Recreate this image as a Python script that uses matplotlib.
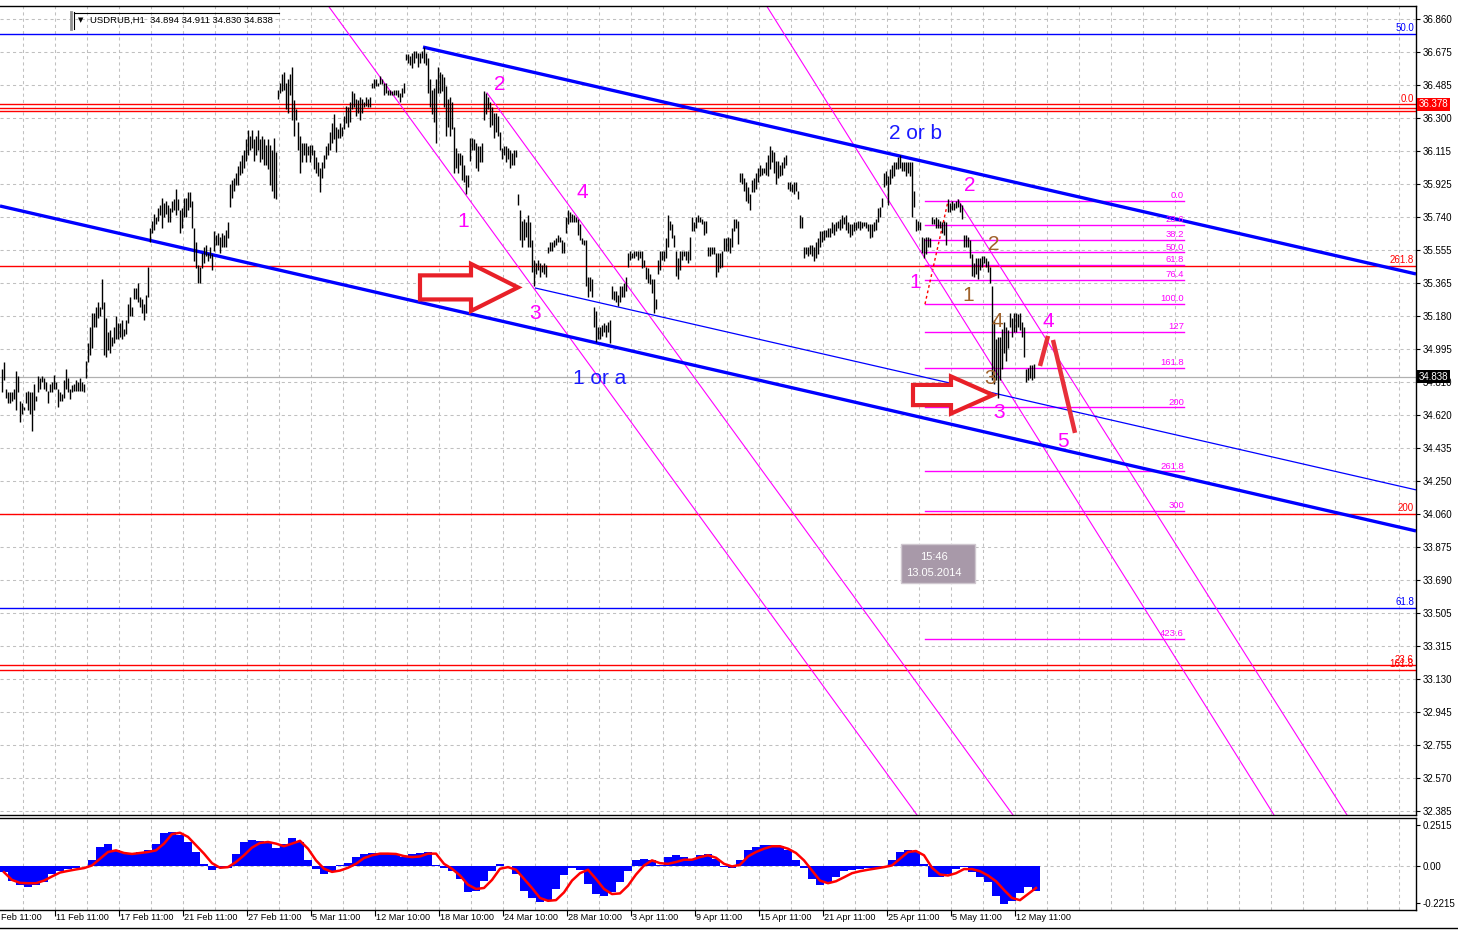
import matplotlib
matplotlib.use("Agg")
import matplotlib.pyplot as plt
import numpy as np
from matplotlib import transforms
from matplotlib.patches import Polygon, Rectangle
from matplotlib.lines import Line2D

plt.rcParams['font.family'] = ['Liberation Sans', 'DejaVu Sans']

W, H = 1458, 932

# hourly bars (high / low), left to right
highs = [
    34.88, 34.92, 34.77, 34.75, 34.75, 34.75, 34.77, 34.87, 34.84, 34.70,
    34.69, 34.67, 34.75, 34.76, 34.75, 34.75, 34.80, 34.73, 34.84, 34.83,
    34.84, 34.83, 34.81, 34.76, 34.80, 34.81, 34.85, 34.81, 34.77, 34.75,
    34.74, 34.82, 34.88, 34.83, 34.77, 34.79, 34.80, 34.82, 34.81, 34.83,
    34.81, 34.80, 34.93, 35.03, 35.12, 35.20, 35.20, 35.23, 35.26, 35.23,
    35.39, 35.26, 35.17, 35.09, 35.10, 35.06, 35.12, 35.18, 35.14, 35.14,
    35.16, 35.11, 35.16, 35.25, 35.29, 35.23, 35.34, 35.34, 35.37, 35.29,
    35.28, 35.25, 35.30, 35.46, 35.68, 35.72, 35.76, 35.74, 35.79, 35.81,
    35.85, 35.82, 35.83, 35.81, 35.79, 35.83, 35.84, 35.90, 35.84, 35.78,
    35.79, 35.85, 35.85, 35.88, 35.88, 35.83, 35.68, 35.60, 35.47, 35.46,
    35.54, 35.57, 35.58, 35.54, 35.57, 35.53, 35.66, 35.64, 35.65, 35.63,
    35.65, 35.64, 35.67, 35.71, 35.93, 35.95, 35.96, 35.99, 36.03, 36.06,
    36.09, 36.12, 36.18, 36.23, 36.20, 36.23, 36.18, 36.20, 36.23, 36.18,
    36.20, 36.18, 36.15, 36.18, 36.15, 36.12, 36.19, 36.11, 36.46, 36.50,
    36.55, 36.56, 36.50, 36.52, 36.55, 36.59, 36.40, 36.35, 36.28, 36.20,
    36.16, 36.16, 36.16, 36.14, 36.15, 36.15, 36.12, 36.08, 36.05, 36.02,
    36.05, 36.09, 36.14, 36.16, 36.22, 36.27, 36.32, 36.25, 36.24, 36.27,
    36.25, 36.31, 36.37, 36.36, 36.39, 36.45, 36.44, 36.41, 36.40, 36.42,
    36.41, 36.39, 36.42, 36.41, 36.42, 36.50, 36.52, 36.52, 36.50, 36.54,
    36.52, 36.50, 36.50, 36.46, 36.46, 36.45, 36.46, 36.46, 36.46, 36.44,
    36.47, 36.50, 36.66, 36.66, 36.65, 36.67, 36.68, 36.68, 36.67, 36.67,
    36.68, 36.70, 36.67, 36.64, 36.52, 36.46, 36.47, 36.52, 36.59, 36.56,
    36.55, 36.53, 36.48, 36.41, 36.42, 36.39, 36.25, 36.13, 36.10, 36.10,
    36.09, 36.035, 35.98, 35.98, 36.19, 36.19, 36.18, 36.16, 36.14, 36.14,
    36.16, 36.45, 36.44, 36.42, 36.39, 36.36, 36.33, 36.33, 36.31, 36.22,
    36.13, 36.14, 36.14, 36.13, 36.12, 36.10, 36.12, 36.12, 35.87, 35.78,
    35.72, 35.73, 35.71, 35.75, 35.71, 35.61, 35.50, 35.48, 35.50, 35.48,
    35.47, 35.48, 35.47, 35.57, 35.60, 35.60, 35.61, 35.62, 35.64, 35.63,
    35.61, 35.60, 35.74, 35.78, 35.77, 35.76, 35.75, 35.74, 35.73, 35.70,
    35.62, 35.61, 35.61, 35.40, 35.40, 35.39, 35.23, 35.21, 35.12, 35.12,
    35.13, 35.14, 35.13, 35.15, 35.16, 35.35, 35.32, 35.32, 35.30, 35.35,
    35.35, 35.37, 35.40, 35.54, 35.55, 35.54, 35.55, 35.55, 35.55, 35.55,
    35.55, 35.50, 35.46, 35.45, 35.42, 35.39, 35.39, 35.28, 35.50, 35.55,
    35.55, 35.55, 35.62, 35.75, 35.72, 35.70, 35.64, 35.55, 35.51, 35.55,
    35.55, 35.55, 35.55, 35.55, 35.63, 35.74, 35.71, 35.74, 35.75, 35.74,
    35.73, 35.72, 35.72, 35.57, 35.57, 35.57, 35.57, 35.54, 35.54, 35.54,
    35.55, 35.62, 35.62, 35.63, 35.62, 35.68, 35.73, 35.73, 35.72, 35.99,
    35.99, 35.96, 35.94, 35.91, 35.87, 35.95, 35.96, 35.99, 36.02, 36.035,
    36.02, 36.02, 36.05, 36.09, 36.14, 36.12, 36.11, 36.06, 36.06, 36.035,
    36.05, 36.08, 36.09, 35.94, 35.94, 35.93, 35.94, 35.94, 35.89, 35.75,
    35.74, 35.57, 35.57, 35.57, 35.58, 35.58, 35.57, 35.60, 35.62, 35.66,
    35.66, 35.67, 35.67, 35.68, 35.68, 35.71, 35.70, 35.71, 35.72, 35.73,
    35.75, 35.74, 35.75, 35.71, 35.70, 35.70, 35.71, 35.71, 35.72, 35.72,
    35.71, 35.71, 35.71, 35.70, 35.70, 35.70, 35.71, 35.73, 35.79, 35.80,
    35.85, 35.99, 36.00, 35.97, 36.01, 36.035, 36.05, 36.05, 36.08, 36.09,
    36.05, 36.05, 36.05, 36.05, 36.05, 36.05, 35.89, 35.73, 35.72, 35.71,
    35.63, 35.62, 35.63, 35.63, 35.62, 35.74, 35.73, 35.74, 35.73, 35.72,
    35.71, 35.72, 35.71, 35.84, 35.82, 35.83, 35.82, 35.83, 35.84, 35.82,
    35.81, 35.64, 35.64, 35.63, 35.61, 35.53, 35.48, 35.51, 35.51, 35.51,
    35.52, 35.52, 35.51, 35.49, 35.46, 35.35, 35.16, 35.05, 35.06, 35.06,
    35.11, 35.15, 35.12, 35.10, 35.20, 35.17, 35.20, 35.20, 35.19, 35.20,
    35.15, 35.12, 34.88, 34.89, 34.905, 34.905, 34.91,
]
lows = [
    34.75, 34.82, 34.72, 34.69, 34.69, 34.70, 34.71, 34.65, 34.75, 34.58,
    34.63, 34.65, 34.69, 34.65, 34.63, 34.53, 34.65, 34.70, 34.75, 34.77,
    34.81, 34.77, 34.76, 34.69, 34.75, 34.75, 34.77, 34.77, 34.67, 34.70,
    34.70, 34.72, 34.77, 34.75, 34.71, 34.75, 34.76, 34.76, 34.76, 34.76,
    34.76, 34.75, 34.83, 34.92, 34.96, 35.00, 35.12, 35.12, 35.17, 35.18,
    35.22, 34.96, 34.95, 34.99, 34.97, 35.01, 35.03, 35.05, 35.05, 35.06,
    35.05, 35.07, 35.08, 35.14, 35.18, 35.18, 35.28, 35.28, 35.26, 35.23,
    35.20, 35.16, 35.20, 35.29, 35.60, 35.65, 35.67, 35.70, 35.72, 35.75,
    35.68, 35.74, 35.76, 35.71, 35.71, 35.77, 35.78, 35.75, 35.78, 35.65,
    35.68, 35.74, 35.74, 35.78, 35.80, 35.68, 35.49, 35.45, 35.37, 35.37,
    35.45, 35.48, 35.52, 35.49, 35.51, 35.44, 35.55, 35.58, 35.58, 35.54,
    35.57, 35.57, 35.57, 35.62, 35.80, 35.85, 35.89, 35.92, 35.92, 35.98,
    35.99, 36.02, 36.06, 36.09, 36.12, 36.13, 36.06, 36.09, 36.12, 36.05,
    36.07, 36.035, 36.035, 36.01, 35.92, 35.89, 35.85, 35.84, 36.41, 36.44,
    36.45, 36.46, 36.35, 36.33, 36.43, 36.29, 36.20, 36.29, 36.12, 35.99,
    36.05, 36.09, 36.05, 36.09, 36.05, 36.09, 36.01, 35.99, 35.97, 35.88,
    35.96, 36.02, 36.07, 36.09, 36.12, 36.16, 36.18, 36.11, 36.19, 36.19,
    36.20, 36.24, 36.27, 36.25, 36.28, 36.35, 36.36, 36.31, 36.33, 36.29,
    36.33, 36.36, 36.37, 36.36, 36.36, 36.47, 36.47, 36.48, 36.48, 36.49,
    36.49, 36.43, 36.44, 36.43, 36.43, 36.43, 36.43, 36.43, 36.42, 36.39,
    36.42, 36.44, 36.63, 36.61, 36.60, 36.58, 36.61, 36.64, 36.59, 36.61,
    36.64, 36.61, 36.60, 36.44, 36.36, 36.32, 36.28, 36.16, 36.44, 36.44,
    36.45, 36.36, 36.20, 36.25, 36.20, 36.24, 35.99, 36.02, 35.99, 36.035,
    35.95, 35.94, 35.87, 35.91, 36.06, 36.12, 36.12, 36.02, 36.00, 36.05,
    36.05, 36.29, 36.32, 36.35, 36.25, 36.26, 36.19, 36.22, 36.20, 36.12,
    36.07, 36.09, 36.05, 36.07, 36.02, 36.035, 36.035, 36.08, 35.81, 35.61,
    35.57, 35.61, 35.63, 35.57, 35.57, 35.43, 35.35, 35.42, 35.44, 35.40,
    35.43, 35.42, 35.40, 35.54, 35.55, 35.55, 35.57, 35.58, 35.60, 35.60,
    35.54, 35.54, 35.65, 35.70, 35.71, 35.71, 35.71, 35.71, 35.64, 35.61,
    35.59, 35.58, 35.35, 35.29, 35.32, 35.29, 35.12, 35.035, 35.05, 35.05,
    35.07, 35.09, 35.06, 35.09, 35.03, 35.28, 35.27, 35.26, 35.24, 35.26,
    35.29, 35.29, 35.32, 35.46, 35.50, 35.51, 35.51, 35.52, 35.50, 35.51,
    35.45, 35.46, 35.39, 35.37, 35.36, 35.31, 35.20, 35.22, 35.42, 35.44,
    35.50, 35.49, 35.51, 35.57, 35.67, 35.62, 35.57, 35.41, 35.39, 35.44,
    35.50, 35.52, 35.50, 35.48, 35.50, 35.66, 35.66, 35.68, 35.71, 35.71,
    35.70, 35.64, 35.65, 35.52, 35.52, 35.53, 35.53, 35.40, 35.43, 35.45,
    35.46, 35.55, 35.55, 35.55, 35.54, 35.57, 35.66, 35.68, 35.59, 35.94,
    35.93, 35.89, 35.83, 35.82, 35.78, 35.88, 35.88, 35.90, 35.94, 35.97,
    35.98, 35.99, 35.98, 35.97, 36.01, 36.05, 35.99, 35.93, 35.96, 35.97,
    35.98, 36.02, 36.035, 35.90, 35.89, 35.88, 35.87, 35.89, 35.84, 35.68,
    35.68, 35.51, 35.53, 35.52, 35.53, 35.52, 35.49, 35.51, 35.53, 35.57,
    35.60, 35.61, 35.63, 35.63, 35.63, 35.65, 35.64, 35.66, 35.68, 35.67,
    35.68, 35.70, 35.67, 35.65, 35.63, 35.64, 35.66, 35.67, 35.68, 35.67,
    35.68, 35.69, 35.68, 35.66, 35.62, 35.63, 35.66, 35.67, 35.71, 35.74,
    35.80, 35.91, 35.92, 35.81, 35.93, 35.96, 35.97, 36.01, 36.01, 36.02,
    36.00, 36.00, 35.97, 35.99, 35.97, 35.74, 35.80, 35.66, 35.67, 35.67,
    35.54, 35.51, 35.53, 35.57, 35.57, 35.70, 35.70, 35.68, 35.68, 35.68,
    35.65, 35.64, 35.58, 35.77, 35.77, 35.78, 35.78, 35.79, 35.80, 35.77,
    35.73, 35.57, 35.57, 35.57, 35.51, 35.41, 35.40, 35.42, 35.39, 35.44,
    35.46, 35.48, 35.46, 35.43, 35.37, 34.82, 34.80, 34.82, 34.72, 34.82,
    34.88, 34.97, 34.93, 35.00, 35.12, 35.06, 35.09, 35.09, 35.12, 35.10,
    35.06, 34.95, 34.81, 34.82, 34.83, 34.82, 34.83,
]

# indicator (every 4th bar): histogram and signal
macd_hist = [
    -0.035, -0.090, -0.111, -0.123, -0.115, -0.096, -0.045, -0.025, -0.014, -0.008,
    0.000, 0.037, 0.119, 0.135, 0.102, 0.082, 0.082, 0.088, 0.098, 0.139,
    0.201, 0.211, 0.190, 0.149, 0.088, 0.016, -0.020, -0.008, -0.008, 0.078,
    0.149, 0.160, 0.156, 0.145, 0.115, 0.139, 0.176, 0.149, 0.037, -0.014,
    -0.045, -0.035, 0.006, 0.020, 0.057, 0.078, 0.082, 0.082, 0.078, 0.068,
    0.057, 0.078, 0.082, 0.088, 0.006, -0.008, -0.025, -0.076, -0.158, -0.147,
    -0.090, -0.025, 0.012, 0.000, -0.045, -0.147, -0.192, -0.219, -0.205, -0.137,
    -0.055, -0.008, -0.020, -0.106, -0.168, -0.178, -0.158, -0.096, -0.025, 0.041,
    0.047, 0.037, 0.006, 0.057, 0.068, 0.057, 0.047, 0.068, 0.078, 0.047,
    -0.004, -0.008, 0.037, 0.098, 0.119, 0.129, 0.133, 0.123, 0.098, 0.037,
    -0.008, -0.076, -0.111, -0.096, -0.066, -0.029, -0.020, -0.014, -0.008, -0.008,
    -0.004, 0.037, 0.088, 0.102, 0.088, 0.016, -0.066, -0.066, -0.045, -0.014,
    -0.004, -0.035, -0.066, -0.096, -0.178, -0.229, -0.209, -0.164, -0.127, -0.147,
]
macd_signal = [
    -0.035, -0.082, -0.100, -0.102, -0.102, -0.086, -0.061, -0.037, -0.027, -0.018,
    -0.010, 0.006, 0.047, 0.088, 0.098, 0.082, 0.076, 0.082, 0.088, 0.098,
    0.139, 0.197, 0.205, 0.180, 0.129, 0.078, 0.020, -0.008, -0.004, 0.027,
    0.068, 0.115, 0.143, 0.149, 0.139, 0.123, 0.139, 0.156, 0.108, 0.037,
    -0.014, -0.033, -0.025, -0.008, 0.016, 0.051, 0.068, 0.078, 0.078, 0.076,
    0.063, 0.057, 0.061, 0.078, 0.078, 0.016, -0.014, -0.055, -0.111, -0.137,
    -0.131, -0.082, -0.014, -0.004, -0.020, -0.076, -0.131, -0.192, -0.209, -0.205,
    -0.158, -0.086, -0.041, -0.020, -0.076, -0.137, -0.168, -0.164, -0.117, -0.049,
    0.006, 0.037, 0.020, 0.016, 0.027, 0.041, 0.041, 0.057, 0.068, 0.053,
    0.016, 0.000, 0.010, 0.061, 0.088, 0.108, 0.123, 0.123, 0.108, 0.082,
    0.037, -0.025, -0.086, -0.102, -0.090, -0.066, -0.041, -0.029, -0.020, -0.012,
    -0.004, 0.006, 0.047, 0.088, 0.094, 0.068, -0.008, -0.049, -0.055, -0.041,
    -0.016, -0.016, -0.029, -0.055, -0.090, -0.143, -0.192, -0.205, -0.168, -0.131,
]

price_tick_labels = ["32.385", "32.570", "32.755", "32.945", "33.130", "33.315",
                     "33.505", "33.690", "33.875", "34.060", "34.250", "34.435",
                     "34.620", "34.810", "34.995", "35.180", "35.365", "35.555",
                     "35.740", "35.925", "36.115", "36.300", "36.485", "36.675",
                     "36.860"]
# first label is only partly on screen in the terminal
date_labels = ["Feb 11:00", "11 Feb 11:00", "17 Feb 11:00", "21 Feb 11:00",
               "27 Feb 11:00", "5 Mar 11:00", "12 Mar 10:00", "18 Mar 10:00",
               "24 Mar 10:00", "28 Mar 10:00", "3 Apr 11:00", "9 Apr 11:00",
               "15 Apr 11:00", "21 Apr 11:00", "25 Apr 11:00", "5 May 11:00",
               "12 May 11:00"]

# horizontal fibo levels that span the whole chart: (price, label, colour)
hlines = [(36.775, "50.0", "#0000ff"), (33.532, "61.8", "#0000ff"),
          (36.378, "0.0", "#ff0000"), (36.355, "", "#ff0000"), (36.338, "", "#ff0000"),
          (35.464, "261.8", "#ff0000"), (34.063, "200", "#ff0000"),
          (33.207, "23.6", "#ff0000"), (33.184, "161.8", "#ff0000")]

# short fibo grid on the last swing
fib_start, fib_end = 461.65, 591.15
fib_p0, fib_p100 = 35.833, 35.249
fib_levels = [0.0, 23.6, 38.2, 50.0, 61.8, 76.4, 100.0, 127, 161.8, 200, 261.8, 300, 423.6]
fib_texts = ["0.0", "23.6", "38.2", "50.0", "61.8", "76.4", "100.0", "127", "161.8",
             "200", "261.8", "300", "423.6"]

# trend lines (bar, price)
chan_upper = [(210.65, 36.701), (707.15, 35.419)]
chan_lower = [(-0.85, 35.803), (707.15, 33.967)]
chan_mid = [(266.65, 35.340), (707.15, 34.199)]
fan_lines = [[(161.15, 36.967), (457.65, 32.362)],
             [(242.65, 36.442), (505.65, 32.362)],
             [(382.15, 36.939), (636.15, 32.362)],
             [(478.15, 35.837), (672.65, 32.362)]]
fib_anchor = [(461.65, 35.249), (473.15, 35.830)]
forecast_up = [(519.15, 34.899), (523.15, 35.069)]
forecast_down = [(525.65, 35.046), (536.65, 34.521)]

# wave labels (text, bar, price, colour)
wave_labels = [("1", 230.7, 35.718, "#ff00ff"), ("2", 249.2, 36.487, "#ff00ff"),
               ("3", 266.7, 35.193, "#ff00ff"), ("4", 290.2, 35.877, "#ff00ff"),
               ("1", 456.7, 35.368, "#ff00ff"), ("2", 484.2, 35.916, "#ff00ff"),
               ("3", 498.7, 34.639, "#ff00ff"), ("4", 523.2, 35.148, "#ff00ff"),
               ("5", 530.7, 34.475, "#ff00ff"),
               ("2", 496.2, 35.583, "#a0622a"), ("1", 483.2, 35.295, "#a0622a"),
               ("4", 497.7, 35.148, "#a0622a"), ("3", 494.2, 34.826, "#a0622a"),
               ("2 or b", 456.7, 36.210, "#1a1aff"), ("1 or a", 299.2, 34.826, "#1a1aff")]

# block arrows: tail, head base, tip, centre price, body half, head half
arrows = [(209.15, 234.65, 258.15, 35.343, 0.068, 0.133),
          (455.65, 474.65, 495.65, 34.735, 0.057, 0.105)]

last_price = 34.838
y_lo, y_hi = 32.362, 36.933
x_lo, x_hi = -0.85, 707.15

fig = plt.figure(figsize=(W / 100, H / 100), dpi=100)
fig.patch.set_facecolor('white')
ax = fig.add_axes([0, 117 / H, 1416 / W, 809 / H])
ax2 = fig.add_axes([0, (H - 909.5) / H, 1416 / W, 92 / H])

for a in (ax, ax2):
    a.set_xlim(x_lo, x_hi)
    a.spines['left'].set_visible(False)
    for s in ('right', 'top', 'bottom'):
        a.spines[s].set_linewidth(1.0)
        a.spines[s].set_color('black')
    a.yaxis.tick_right()
    a.tick_params(axis='y', direction='out', length=3, width=0.8, pad=2,
                  labelsize=7, colors='black')

ax.set_ylim(y_lo, y_hi)
ax.set_xticks([])
price_ticks = np.linspace(32.385, 36.860, len(price_tick_labels))
ax.set_yticks(price_ticks)
ax.set_yticklabels(price_tick_labels)

gkw = dict(color='#c0c0c0', lw=0.75, ls=(0, (3, 3)), zorder=0.5)
grid_x = np.arange(10.65, x_hi, 16)
for gx in grid_x:
    ax.axvline(gx, **gkw)
    ax2.axvline(gx, **gkw)
for gy in price_ticks:
    ax.axhline(gy, **gkw)
ax2.axhline(0, **gkw)

blend = transforms.blended_transform_factory(ax.transAxes, ax.transData)

# full-width levels
for price, label, col in hlines:
    ax.axhline(price, color=col, lw=1.0, zorder=1)
    if label:
        ax.text(0.9985, price + 0.004, label, transform=blend, ha='right', va='bottom',
                color=col, fontsize=7, zorder=4)
ax.axhline(last_price, color='#b0b0b0', lw=0.9, zorder=1)

# fibo grid
for lev, txt in zip(fib_levels, fib_texts):
    p = fib_p0 + (fib_p100 - fib_p0) * lev / 100.0
    ax.plot([fib_start, fib_end], [p, p], color='#ff00ff', lw=1.0, zorder=2)
    ax.text(fib_end, p + 0.004, txt, ha='right', va='bottom', color='#ff00ff',
            fontsize=6.8, zorder=4)
ax.plot(*zip(*fib_anchor), color='#ff0000', lw=1.0, ls=(0, (2, 2)), zorder=2)

# channel and fan lines
for seg, lw in ((chan_upper, 2.4), (chan_lower, 2.4), (chan_mid, 0.9)):
    ax.plot(*zip(*seg), color='#0000ff', lw=lw, zorder=2.5, solid_capstyle='butt')
for seg in fan_lines:
    ax.plot(*zip(*seg), color='#ff00ff', lw=0.8, zorder=2)

# price bars
n = min(len(highs), len(lows))
bar_x = np.arange(n)
ax.vlines(bar_x, lows[:n], highs[:n], color='black', lw=1.0, zorder=3)

# wave labels
for txt, bx, py, col in wave_labels:
    ax.text(bx, py, txt, ha='center', va='center', color=col, fontsize=15, zorder=4)

# arrows
for tail, head, tip, yc, bh, hh in arrows:
    pts = [(tail, yc + bh), (head, yc + bh), (head, yc + hh), (tip, yc),
           (head, yc - hh), (head, yc - bh), (tail, yc - bh)]
    ax.add_patch(Polygon(pts, closed=True, facecolor='white', edgecolor='#e82028',
                         lw=3.0, joinstyle='miter', zorder=5))

for seg in (forecast_up, forecast_down):
    ax.plot(*zip(*seg), color='#e8303a', lw=3.2, solid_capstyle='butt', zorder=5)

# price markers on the scale
ax.annotate("36.378", xy=(1.0, 36.378), xycoords=blend, xytext=(2, 0),
            textcoords='offset points', ha='left', va='center', color='white', fontsize=7,
            bbox=dict(boxstyle='square,pad=0.15', fc='#ff0000', ec='none'),
            annotation_clip=False, zorder=6)
ax.annotate(f"{last_price:.3f}", xy=(1.0, last_price), xycoords=blend, xytext=(2, 0),
            textcoords='offset points', ha='left', va='center', color='white', fontsize=7,
            bbox=dict(boxstyle='square,pad=0.15', fc='black', ec='none'),
            annotation_clip=False, zorder=6)

# indicator window
ax2.set_ylim(-0.262, 0.298)
macd_x = np.arange(len(macd_hist)) * 4 - 0.85
ax2.bar(macd_x, macd_hist, width=4, align='edge', color='#0000ff', lw=0, zorder=2)
ax2.plot(macd_x + 2, macd_signal, color='#ff0000', lw=1.8, zorder=3)
ax2.set_yticks([0.2515, 0.0, -0.2215])
ax2.set_yticklabels(["0.2515", "0.00", "-0.2215"])

date_x = 26.65 + 32 * (np.arange(len(date_labels)) - 1)
date_x[0] = x_lo
ax2.set_xticks(date_x[1:])
ax2.set_xticklabels([])
ax2.tick_params(axis='x', direction='out', length=4, width=0.8)
blend2 = transforms.blended_transform_factory(ax2.transData, ax2.transAxes)
for dx, lab in zip(date_x, date_labels):
    ax2.text(dx + 0.6, -0.085, lab, transform=blend2, ha='left', va='center',
             fontsize=6.6, clip_on=False)

# window bottom border
fig.add_artist(Line2D([0, 1], [1 - 928 / H] * 2, color='black', lw=1.0))

# symbol box top left
fig.add_artist(Line2D([71 / W] * 2, [1 - 12 / H, 1 - 29 / H], color='#909090', lw=2.0))
fig.add_artist(Line2D([74 / W] * 2, [1 - 12 / H, 1 - 29 / H], color='black', lw=0.8))
fig.add_artist(Line2D([74 / W, 279 / W], [1 - 12.5 / H] * 2, color='black', lw=0.8))
fig.text(78 / W, 1 - 20.5 / H, "\u25bc", fontsize=5, family='DejaVu Sans', va='center')
fig.text(90 / W, 1 - 20.5 / H, "USDRUB,H1  34.894 34.911 34.830 34.838", fontsize=6.8,
         va='center')

# cursor time box
fig.add_artist(Rectangle((901 / W, 1 - 583 / H), 74 / W, 39 / H, transform=fig.transFigure,
                         facecolor='#a899a9', edgecolor='#d0c8d0', lw=1.0))
fig.text(934 / W, 1 - 557 / H, "15:46", color='white', fontsize=8, ha='center', va='center')
fig.text(934 / W, 1 - 573 / H, "13.05.2014", color='white', fontsize=8, ha='center',
         va='center')

fig.savefig("out.png", dpi=100, facecolor='white')
